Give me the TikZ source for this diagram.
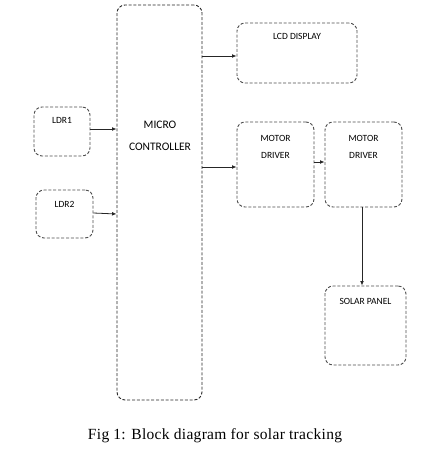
\documentclass[tikz,border=0pt]{standalone}
\usepackage{fontspec}
\setmainfont{Liberation Serif}
\newfontfamily\boxfont{Carlito}
\usetikzlibrary{arrows.meta,calc}
\tikzset{
  blk/.style={draw=black!70, line width=0.9pt, dash pattern=on 3pt off 1.8pt, rounded corners=8pt, rectangle, inner sep=0pt},
  lbl/.style={font=\boxfont\fontsize{9.5}{11}\selectfont, align=center, inner sep=0pt, text=black},
  conn/.style={draw=black!85, line width=0.8pt, -{Latex[length=4.5pt,width=3.8pt]}}
}
\begin{document}
\begin{tikzpicture}[x=1pt,y=-1pt]
\useasboundingbox (0,0) rectangle (447,457);
% blocks
\node[blk, draw=black!85, minimum width=85pt, minimum height=395pt] (micro) at (159.5,202.5) {};
\node[blk, minimum width=120pt, minimum height=60pt] (lcd) at (297,53) {};
\node[blk, minimum width=56pt, minimum height=49pt] (ldr1) at (62,131.5) {};
\node[blk, minimum width=57pt, minimum height=48pt] (ldr2) at (64.5,214) {};
\node[blk, minimum width=77pt, minimum height=85pt] (md1) at (275.5,164.5) {};
\node[blk, minimum width=77pt, minimum height=85pt] (md2) at (363.5,164.5) {};
\node[blk, minimum width=81pt, minimum height=79pt] (solar) at (365.5,325.5) {};
% labels
\node[lbl, font=\boxfont\fontsize{11.5}{22}\selectfont] (tmicro) at (160,136) {MICRO\\CONTROLLER};
\node[lbl] (tlcd) at ([yshift=-14pt]lcd.north) {LCD DISPLAY};
\node[lbl] (tldr1) at ([yshift=-14pt]ldr1.north) {LDR1};
\node[lbl] (tldr2) at ([yshift=-15pt]ldr2.north) {LDR2};
\node[lbl, font=\boxfont\fontsize{9.5}{17}\selectfont] (tmd1) at ([yshift=-25.5pt]md1.north) {MOTOR\\DRIVER};
\node[lbl, font=\boxfont\fontsize{9.5}{17}\selectfont] (tmd2) at ([yshift=-25.5pt]md2.north) {MOTOR\\DRIVER};
\node[lbl] (tsolar) at ([yshift=-16pt]solar.north) {SOLAR PANEL};
% connectors
\draw[conn] ([yshift=2.5pt]ldr1.east) -- ([yshift=2.5pt]ldr1.east -| micro.west);
\draw[conn] ([yshift=1pt]ldr2.east) -- ([yshift=0pt]ldr2.east -| micro.west);
\draw[conn] ([yshift=-3pt]lcd.west -| micro.east) -- ([yshift=-3pt]lcd.west);
\draw[conn] ([yshift=-2.5pt]md1.west -| micro.east) -- ([yshift=-2.5pt]md1.west);
\draw[conn] ([yshift=2.5pt]md1.east) -- ([yshift=2.5pt]md2.west);
\draw[conn] ([xshift=-1.5pt]md2.south) -- ([xshift=-1.5pt]md2.south |- solar.north);
% caption
\node[font=\fontsize{15.5}{18}\selectfont\addfontfeature{LetterSpace=2}, inner sep=0pt] (cap) at (215,436) {Fig 1: Block diagram for solar tracking};
\end{tikzpicture}
\end{document}
